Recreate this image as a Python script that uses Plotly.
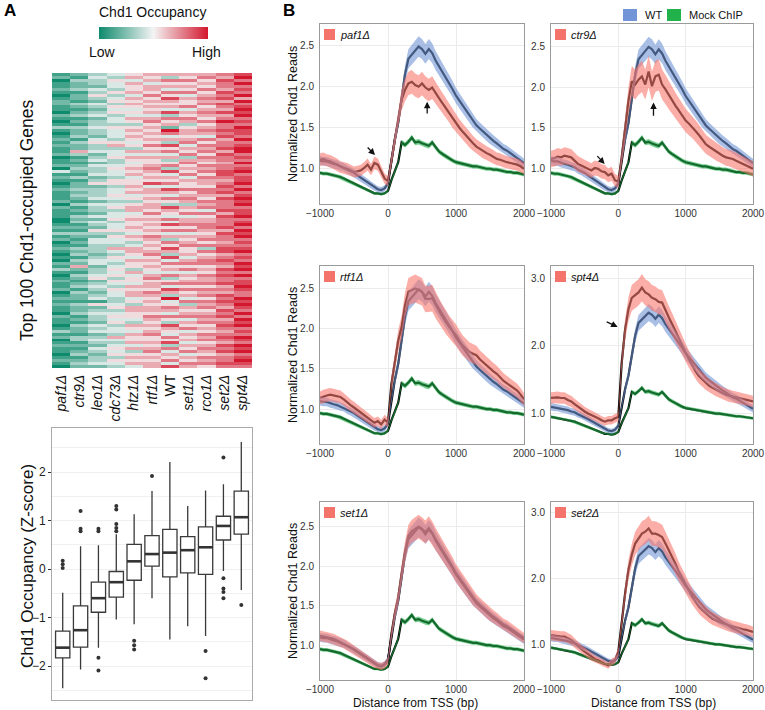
import plotly.graph_objects as go

W, H = 765, 710

# ---------------- panel A: heatmap + box plot ----------------
STRAINS = ["paf1Δ", "ctr9Δ", "leo1Δ", "cdc73Δ", "htz1Δ", "rtf1Δ", "WT",
           "set1Δ", "rco1Δ", "set2Δ", "spt4Δ"]

# relative Chd1 occupancy per gene (top 100), 0 = low ... 9 = high
HEAT_PAF1 = "1201121012" "2110210131" "0121211201" "1204121012" "1112021110" \
            "0121312012" "1010213101" "2112012121" "1021101312" "0121101210"
HEAT_CTR9 = "2132231221" "3212312132" "2313226312" "1232131223" "2321312132" \
            "3121321213" "2313262132" "1231322132" "2312132213" "3121231232"
HEAT_LEO1 = "3433243532" "4323423343" "3245334234" "2433423523" "3342433242" \
            "4325324433" "3234423345" "2343234152" "3433243423" "4324323342"
HEAT_CDC73 = "4354435345" "3545344354" "4435634453" "3454435534" "4543453445" \
             "3445354436" "4354345453" "5435443345" "3454534436" "4345453543"
HEAT_HTZ1 = "5646556465" "6545465356" "5654536465" "4565645565" "6453566456" \
            "5565465346" "6546553645" "5465664536" "6554365465" "5646356564"
HEAT_RTF1 = "6564665756" "5656467565" "6565756465" "5676565846" "6565665756" \
            "5656576565" "6756565467" "5665765656" "6576565675" "5656756566"
HEAT_WT = "6375647586" "5648375629" "7463857463" "5738465748" "6475386547" \
          "4857463758" "6384756473" "5748639457" "6475386547" "5837465748"
HEAT_SET1 = "6575657465" "5746576356" "6567465736" "7565746557" "5676365746" \
            "6757465675" "5646757465" "6757564736" "5674657465" "6465746576"
HEAT_RCO1 = "6756575676" "7567657567" "6475767576" "5767576657" "7657674756" \
            "6776567573" "7567756576" "6757675767" "5676756576" "7567657675"
HEAT_SET2 = "7687768786" "8768679778" "7867786877" "6778876787" "8687778687" \
            "7786877678" "8678768787" "7867687876" "8786787678" "7687867787"
HEAT_SPT4 = "8979787969" "7898978798" "8797899787" "9789788979" "7898978897" \
            "8979897878" "9787989797" "8898779898" "7979897879" "8798978987"
HEAT_COLS = [HEAT_PAF1, HEAT_CTR9, HEAT_LEO1, HEAT_CDC73, HEAT_HTZ1, HEAT_RTF1,
             HEAT_WT, HEAT_SET1, HEAT_RCO1, HEAT_SET2, HEAT_SPT4]

# box plot summary (Z-score)
BOX_LO = [-2.46, -2.07, -1.62, -1.04, -1.14, -0.60, -1.45, -1.18, -1.38, -0.04, -0.43]
BOX_Q1 = [-1.83, -1.61, -0.89, -0.58, -0.23, 0.06, -0.16, -0.08, -0.11, 0.60, 0.72]
BOX_MED = [-1.62, -1.26, -0.60, -0.27, 0.16, 0.31, 0.34, 0.39, 0.45, 0.89, 1.07]
BOX_Q3 = [-1.28, -0.76, -0.27, -0.05, 0.51, 0.69, 0.82, 0.67, 0.87, 1.09, 1.61]
BOX_HI = [-0.49, 0.47, 0.49, 0.72, 1.13, 1.61, 2.21, 1.30, 1.62, 1.75, 2.62]
OUTLIERS = [
    [0.17, 0.10, 0.02],
    [1.20, 0.83, 0.78],
    [0.83, 0.78, -1.83, -2.09],
    [1.30, 1.23, 0.93, 0.85, 0.78],
    [-1.48, -1.57, -1.66],
    [1.92],
    [],
    [],
    [-1.69, -2.25],
    [2.30, -0.19, -0.40, -0.47, -0.60],
    [-0.74],
]

# ---------------- panel B: metagene profiles ----------------
POS = list(range(-1000, 2001, 50))

WT = [1.10, 1.09, 1.09, 1.07, 1.06, 1.05, 1.03, 1.02, 0.99, 0.97,
      0.95, 0.92, 0.89, 0.86, 0.83, 0.80, 0.77, 0.75, 0.74, 0.76,
      0.82, 1.12, 1.36, 1.56, 1.86, 2.15, 2.34, 2.39, 2.44, 2.49,
      2.46, 2.40, 2.46, 2.41, 2.32, 2.25, 2.19, 2.11, 2.04, 1.97,
      1.89, 1.83, 1.76, 1.70, 1.64, 1.58, 1.53, 1.49, 1.45, 1.41,
      1.37, 1.34, 1.31, 1.27, 1.24, 1.22, 1.19, 1.16, 1.13, 1.10,
      1.07]
MOCK = [0.95, 0.94, 0.94, 0.93, 0.92, 0.91, 0.90, 0.88, 0.86, 0.84,
        0.82, 0.80, 0.78, 0.76, 0.74, 0.72, 0.70, 0.70, 0.69, 0.70,
        0.73, 0.86, 0.96, 1.08, 1.32, 1.29, 1.33, 1.38, 1.32, 1.33,
        1.31, 1.29, 1.28, 1.32, 1.26, 1.21, 1.18, 1.15, 1.12, 1.10,
        1.08, 1.07, 1.06, 1.05, 1.04, 1.03, 1.03, 1.02, 1.01, 1.00,
        1.00, 0.99, 0.99, 0.98, 0.97, 0.96, 0.96, 0.95, 0.95, 0.94,
        0.93]
PAF1 = [1.11, 1.12, 1.10, 1.09, 1.07, 1.05, 1.02, 1.01, 1.00, 0.98,
        0.96, 0.97, 0.98, 1.01, 1.05, 0.99, 1.07, 1.05, 0.97, 0.88,
        0.85, 1.11, 1.35, 1.63, 1.84, 1.96, 2.04, 2.06, 2.02, 2.00,
        2.04, 1.99, 1.96, 1.99, 1.92, 1.86, 1.80, 1.74, 1.68, 1.61,
        1.55, 1.50, 1.45, 1.40, 1.35, 1.31, 1.27, 1.24, 1.21, 1.19,
        1.17, 1.14, 1.12, 1.11, 1.09, 1.08, 1.07, 1.06, 1.05, 1.03,
        1.00]
CTR9 = [1.12, 1.13, 1.15, 1.14, 1.16, 1.15, 1.14, 1.10, 1.06, 1.04,
        1.02, 1.00, 0.98, 1.01, 1.00, 0.97, 0.96, 0.92, 0.94, 0.86,
        0.84, 1.14, 1.46, 1.83, 2.07, 2.03, 2.09, 2.13, 2.03, 2.19,
        2.01, 2.13, 2.15, 2.03, 1.97, 1.90, 1.83, 1.77, 1.71, 1.65,
        1.59, 1.55, 1.51, 1.46, 1.41, 1.35, 1.30, 1.27, 1.24, 1.21,
        1.18, 1.16, 1.14, 1.13, 1.12, 1.10, 1.08, 1.06, 1.04, 1.02,
        1.00]
RTF1 = [1.14, 1.16, 1.17, 1.18, 1.17, 1.16, 1.15, 1.12, 1.08, 1.05,
        1.02, 0.99, 0.96, 0.93, 0.89, 0.86, 0.83, 0.85, 0.81, 0.87,
        0.83, 1.31, 1.60, 1.85, 2.02, 2.29, 2.46, 2.48, 2.50, 2.48,
        2.46, 2.37, 2.37, 2.38, 2.29, 2.22, 2.15, 2.08, 2.02, 1.97,
        1.92, 1.85, 1.79, 1.75, 1.71, 1.69, 1.67, 1.62, 1.58, 1.54,
        1.50, 1.47, 1.44, 1.39, 1.35, 1.32, 1.29, 1.26, 1.23, 1.18,
        1.12]
SPT4 = [1.23, 1.24, 1.24, 1.23, 1.23, 1.20, 1.18, 1.14, 1.10, 1.06,
        1.03, 1.00, 0.98, 0.95, 0.93, 0.90, 0.88, 0.90, 0.90, 0.93,
        0.95, 1.75, 2.24, 2.54, 2.71, 2.75, 2.79, 2.86, 2.79, 2.76,
        2.71, 2.69, 2.65, 2.64, 2.52, 2.42, 2.32, 2.21, 2.10, 2.00,
        1.90, 1.80, 1.70, 1.62, 1.55, 1.50, 1.45, 1.41, 1.38, 1.35,
        1.32, 1.30, 1.28, 1.26, 1.25, 1.24, 1.23, 1.21, 1.20, 1.19,
        1.18]
SET1 = [1.12, 1.11, 1.10, 1.09, 1.08, 1.06, 1.04, 1.02, 1.00, 0.97,
        0.94, 0.91, 0.88, 0.85, 0.82, 0.79, 0.76, 0.74, 0.73, 0.75,
        0.80, 1.14, 1.40, 1.60, 1.90, 2.18, 2.38, 2.44, 2.47, 2.50,
        2.47, 2.43, 2.48, 2.42, 2.34, 2.27, 2.21, 2.13, 2.06, 1.99,
        1.91, 1.85, 1.78, 1.72, 1.66, 1.60, 1.55, 1.51, 1.47, 1.43,
        1.39, 1.36, 1.33, 1.29, 1.26, 1.24, 1.21, 1.18, 1.15, 1.12,
        1.09]
SET2 = [1.14, 1.13, 1.13, 1.12, 1.12, 1.10, 1.07, 1.02, 0.97, 0.93,
        0.89, 0.85, 0.81, 0.78, 0.76, 0.73, 0.70, 0.68, 0.73, 0.76,
        0.89, 1.37, 1.77, 2.13, 2.36, 2.53, 2.61, 2.68, 2.71, 2.76,
        2.68, 2.68, 2.66, 2.63, 2.53, 2.43, 2.33, 2.22, 2.10, 2.00,
        1.90, 1.81, 1.72, 1.64, 1.57, 1.52, 1.47, 1.43, 1.39, 1.36,
        1.34, 1.32, 1.30, 1.28, 1.27, 1.26, 1.24, 1.23, 1.22, 1.21,
        1.19]

# relative half-width of the confidence band
ERR_WT, ERR_MOCK = 0.05, 0.025

PANELS = [  # label, profile, band, y range, y ticks
    ("paf1Δ", PAF1, 0.07, [0.57, 2.765], [1.0, 1.5, 2.0, 2.5]),
    ("ctr9Δ", CTR9, 0.09, [0.57, 2.77], [1.0, 1.5, 2.0, 2.5]),
    ("rtf1Δ", RTF1, 0.07, [0.566, 2.78], [1.0, 1.5, 2.0, 2.5]),
    ("spt4Δ", SPT4, 0.07, [0.55, 3.18], [1.0, 2.0, 3.0]),
    ("set1Δ", SET1, 0.06, [0.56, 2.81], [1.0, 1.5, 2.0, 2.5]),
    ("set2Δ", SET2, 0.07, [0.46, 3.16], [1.0, 2.0, 3.0]),
]

# arrows: panel index, tail (x, y), head (x, y)
ARROWS = [
    (0, -321, 1.277, -191, 1.167),
    (0, 576, 1.655, 576, 1.817),
    (1, -333, 1.174, -203, 1.06),
    (1, 522, 1.63, 522, 1.81),
    (3, -195, 2.366, -10, 2.28),
]

C_MUT, C_WT, C_MOCK = "rgba(248,118,109,0.6)", "rgba(111,148,214,0.6)", "rgba(33,177,74,0.6)"
FONT = "Liberation Sans, Arial, sans-serif"


def px_x(v):
    return v / W


def px_y(v):
    return 1 - v / H


fig = go.Figure()

# heatmap
z = [[int(col[r]) for col in HEAT_COLS] for r in range(100)]
fig.add_trace(go.Heatmap(
    z=z, x=list(range(11)), y=list(range(100)), zmin=0, zmax=9,
    colorscale=[[0, "#0e8a6c"], [0.5, "#f4f4f4"], [1, "#d3172e"]],
    xaxis="x", yaxis="y",
    colorbar=dict(orientation="h", x=px_x(153.5), xanchor="center",
                  y=px_y(33), yanchor="middle", len=109, lenmode="pixels",
                  thickness=12, outlinewidth=0, showticklabels=False,
                  ticks="", xpad=0, ypad=0),
))

# box plot
idx = list(range(11))
fig.add_trace(go.Box(
    x=idx, q1=BOX_Q1, median=BOX_MED, q3=BOX_Q3,
    lowerfence=BOX_LO, upperfence=BOX_HI, width=0.8, whiskerwidth=0,
    fillcolor="white", line=dict(color="#3a3a3a", width=1.3),
    boxpoints=False, xaxis="x2", yaxis="y2",
))
mx, my = [], []
for i, m in enumerate(BOX_MED):
    mx += [i - 0.4, i + 0.4, None]
    my += [m, m, None]
fig.add_trace(go.Scatter(x=mx, y=my, mode="lines", line=dict(color="#333333", width=2.6),
                         xaxis="x2", yaxis="y2", hoverinfo="skip"))
ox, oy = [], []
for i, vals in enumerate(OUTLIERS):
    ox += [i] * len(vals)
    oy += vals
fig.add_trace(go.Scatter(x=ox, y=oy, mode="markers", marker=dict(color="#333333", size=4),
                         xaxis="x2", yaxis="y2"))


def band(vals, rel):
    up = [v * (1 + rel) for v in vals]
    lo = [v * (1 - rel) for v in vals]
    return POS + POS[::-1], up + lo[::-1]


# profile panels
COL_X = [(320, 524), (551, 753)]
ROW_Y = [(24, 204), (266, 444), (502, 680)]
layout_axes = {}
annotations = []
shapes = []
for k, (label, prof, err, yr, yt) in enumerate(PANELS):
    n = k + 3
    xa, ya = f"x{n}", f"y{n}"
    x0, x1 = COL_X[k % 2]
    y0, y1 = ROW_Y[k // 2]
    for series in (MOCK, WT, prof):
        fig.add_trace(go.Scatter(x=POS, y=series, mode="lines",
                                 line=dict(color="black", width=2.2),
                                 xaxis=xa, yaxis=ya, hoverinfo="skip"))
    for series, rel, col in ((MOCK, ERR_MOCK, C_MOCK), (WT, ERR_WT, C_WT), (prof, err, C_MUT)):
        bx, by = band(series, rel)
        fig.add_trace(go.Scatter(x=bx, y=by, mode="lines", fill="toself", fillcolor=col,
                                 line=dict(width=0), xaxis=xa, yaxis=ya, hoverinfo="skip"))
    layout_axes[f"xaxis{n}"] = dict(
        domain=[px_x(x0), px_x(x1)], anchor=ya, range=[-1000, 2000],
        tickvals=[-1000, 0, 1000, 2000], showgrid=True, gridcolor="#ebebeb",
        showline=True, mirror=True, linecolor="#9a9a9a", ticks="", zeroline=False,
        tickfont=dict(size=10, color="#333333"), ticklabelstandoff=0,
        ticklabeloverflow="allow", automargin=False)
    layout_axes[f"yaxis{n}"] = dict(
        domain=[px_y(y1), px_y(y0)], anchor=xa, range=yr, tickvals=yt,
        tickformat=".1f", showgrid=True, gridcolor="#ebebeb",
        showline=True, mirror=True, linecolor="#9a9a9a", ticks="", zeroline=False,
        tickfont=dict(size=10, color="#333333"), ticklabelstandoff=3, automargin=False)
    # strain key inside panel
    shapes.append(dict(type="rect", xref="paper", yref="paper",
                       x0=px_x(x0 + 4), x1=px_x(x0 + 15), y0=px_y(y0 + 16), y1=px_y(y0 + 5),
                       fillcolor="#f4736b", line=dict(width=0)))
    annotations.append(dict(text=f"<i>{label}</i>", x=px_x(x0 + 18), y=px_y(y0 + 11),
                            xref="paper", yref="paper", xanchor="left", yanchor="middle",
                            showarrow=False, font=dict(size=11, color="#111111")))
    if k % 2 == 0:
        annotations.append(dict(text="Normalized Chd1 Reads", x=px_x(293), y=px_y((y0 + y1) / 2),
                                xref="paper", yref="paper", textangle=-90, showarrow=False,
                                xanchor="center", yanchor="middle",
                                font=dict(size=12.5, color="#111111")))
    if k >= 4:
        annotations.append(dict(text="Distance from TSS (bp)",
                                x=px_x(416 if k == 4 else 653), y=px_y(703),
                                xref="paper", yref="paper", showarrow=False,
                                xanchor="center", yanchor="middle",
                                font=dict(size=12, color="#111111")))

for k, tx, ty, hx, hy in ARROWS:
    n = k + 3
    annotations.append(dict(x=hx, y=hy, ax=tx, ay=ty, xref=f"x{n}", yref=f"y{n}",
                            axref=f"x{n}", ayref=f"y{n}", text="", showarrow=True,
                            arrowhead=2, arrowsize=1, arrowwidth=1.3, arrowcolor="#111111",
                            standoff=0))

# legend for WT / Mock ChIP
shapes.append(dict(type="rect", xref="paper", yref="paper", x0=px_x(623), x1=px_x(637),
                   y0=px_y(21), y1=px_y(9), fillcolor="#7195d6", line=dict(width=0)))
shapes.append(dict(type="rect", xref="paper", yref="paper", x0=px_x(667), x1=px_x(681),
                   y0=px_y(21), y1=px_y(9), fillcolor="#22b24c", line=dict(width=0)))
for txt, x in (("WT", 643), ("Mock ChIP", 687)):
    annotations.append(dict(text=txt, x=px_x(x), y=px_y(15), xref="paper", yref="paper",
                            xanchor="left", yanchor="middle", showarrow=False,
                            font=dict(size=11, color="#111111")))

# panel A texts
for txt, x, y, size in (("Chd1 Occupancy", 152, 12, 14), ("Low", 102, 52, 14), ("High", 206, 52, 14)):
    annotations.append(dict(text=txt, x=px_x(x), y=px_y(y), xref="paper", yref="paper",
                            xanchor="center", yanchor="middle", showarrow=False,
                            font=dict(size=size, color="#111111")))
annotations.append(dict(text="Top 100 Chd1-occupied Genes", x=px_x(27), y=px_y(220),
                        xref="paper", yref="paper", textangle=-90, showarrow=False,
                        xanchor="center", yanchor="middle", font=dict(size=17.5, color="#111111")))
annotations.append(dict(text="Chd1 Occupancy (Z-score)", x=px_x(27), y=px_y(566),
                        xref="paper", yref="paper", textangle=-90, showarrow=False,
                        xanchor="center", yanchor="middle", font=dict(size=17, color="#111111")))
for txt, x in (("A", 2), ("B", 281)):
    annotations.append(dict(text=f"<b>{txt}</b>", x=px_x(x), y=px_y(11), xref="paper", yref="paper",
                            xanchor="left", yanchor="middle", showarrow=False,
                            font=dict(size=17, color="black")))

tick_text = [s if s == "WT" else f"<i>{s}</i>" for s in STRAINS]

fig.update_layout(
    width=W, height=H, margin=dict(l=0, r=0, t=0, b=0, autoexpand=False),
    paper_bgcolor="white", plot_bgcolor="white", showlegend=False,
    font=dict(family=FONT, color="#111111"),
    xaxis=dict(domain=[px_x(52), px_x(252)], anchor="y", range=[-0.5, 10.5],
               tickvals=idx, ticktext=tick_text, tickangle=-90, ticks="",
               showgrid=False, zeroline=False, tickfont=dict(size=14, color="#111111"),
               ticklabelstandoff=3, automargin=False),
    yaxis=dict(domain=[px_y(368), px_y(73)], anchor="x", range=[99.5, -0.5],
               showticklabels=False, showgrid=False, zeroline=False),
    xaxis2=dict(domain=[px_x(52), px_x(252)], anchor="y2", range=[-0.6, 10.6],
                showticklabels=False, ticks="", showgrid=False, zeroline=False,
                showline=True, mirror=True, linecolor="#aaaaaa"),
    yaxis2=dict(domain=[px_y(700), px_y(428)], anchor="x2", range=[-2.70, 2.91],
                tickvals=[-2, -1, 0, 1, 2], ticks="outside", ticklen=3,
                tickcolor="#333333", showgrid=True, gridcolor="#f0f0f0",
                minor=dict(dtick=0.5, showgrid=True, gridcolor="#f0f0f0"),
                zeroline=False, showline=True, mirror=True, linecolor="#aaaaaa",
                tickfont=dict(size=12, color="#222222"), automargin=False),
    annotations=annotations, shapes=shapes,
    **layout_axes,
)

# the page body has a default 8px margin; drop it so the figure sits at the corner
fig.write_html("out.html", config={"displayModeBar": False},
               post_script="document.body.style.margin='0';document.body.style.padding='0';")
